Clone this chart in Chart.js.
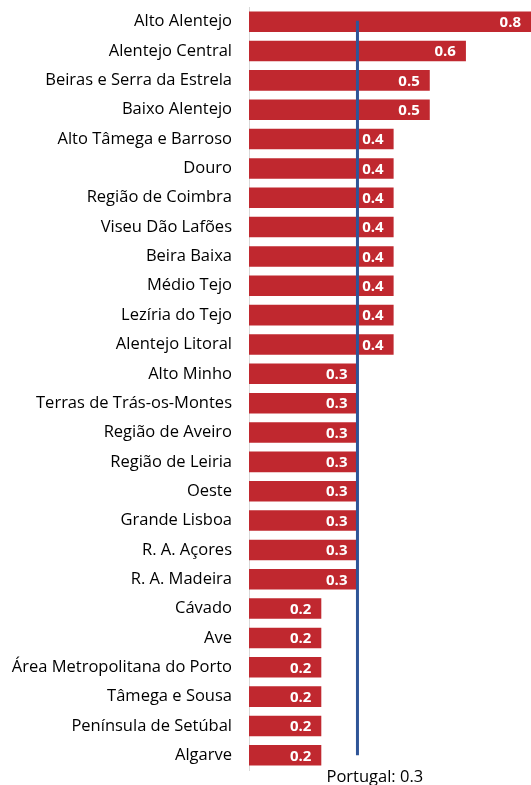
<!DOCTYPE html>
<html>
<head>
<meta charset="utf-8">
<script src="https://cdn.jsdelivr.net/npm/chart.js@4"></script>
<style>
    html, body { margin: 0; padding: 0; background: #fff; }
    #wrap { width: 531px; height: 785px; position: relative; }
</style>
</head>
<body>
<div id="wrap"><canvas id="regionChart"></canvas></div>
<script>
// regiões (NUTS III) e valores
const regions = [
    'Alto Alentejo', 'Alentejo Central', 'Beiras e Serra da Estrela', 'Baixo Alentejo',
    'Alto Tâmega e Barroso', 'Douro', 'Região de Coimbra', 'Viseu Dão Lafões',
    'Beira Baixa', 'Médio Tejo', 'Lezíria do Tejo', 'Alentejo Litoral',
    'Alto Minho', 'Terras de Trás-os-Montes', 'Região de Aveiro', 'Região de Leiria',
    'Oeste', 'Grande Lisboa', 'R. A. Açores', 'R. A. Madeira',
    'Cávado', 'Ave', 'Área Metropolitana do Porto', 'Tâmega e Sousa',
    'Península de Setúbal', 'Algarve'
];
const values = [
    0.8, 0.6, 0.5, 0.5,
    0.4, 0.4, 0.4, 0.4,
    0.4, 0.4, 0.4, 0.4,
    0.3, 0.3, 0.3, 0.3,
    0.3, 0.3, 0.3, 0.3,
    0.2, 0.2, 0.2, 0.2,
    0.2, 0.2
];
const portugalValue = 0.3;
const portugalLabel = 'Portugal: 0.3';

const FONT = '"Open Sans", "Noto Sans", sans-serif';

// linha de referência + rótulos dos valores
const refLinePlugin = {
    id: 'refLine',
    afterDatasetsDraw(chart) {
        const ctx = chart.ctx;
        const x = chart.scales.x;
        const y = chart.scales.y;
        const meta = chart.getDatasetMeta(0);

        // valores dentro das barras
        ctx.save();
        ctx.font = 'bold 15px ' + FONT;
        ctx.fillStyle = '#fff';
        ctx.textAlign = 'right';
        ctx.textBaseline = 'middle';
        meta.data.forEach((bar, i) => {
            const end = Math.min(bar.x, chart.chartArea.right);
            ctx.fillText(values[i].toFixed(1), end - 10, bar.y + 1);
        });
        ctx.restore();

        // Portugal
        const px = x.getPixelForValue(portugalValue);
        ctx.save();
        ctx.strokeStyle = '#2F5597';
        ctx.lineWidth = 3;
        ctx.beginPath();
        ctx.moveTo(px, y.getPixelForValue(0) - 1);
        ctx.lineTo(px, y.getPixelForValue(regions.length - 1));
        ctx.stroke();

        ctx.font = '16.5px ' + FONT;
        ctx.fillStyle = '#000';
        ctx.textAlign = 'left';
        ctx.textBaseline = 'alphabetic';
        ctx.fillText(portugalLabel, px - 31, 782);
        ctx.restore();
    }
};

const ctx = document.getElementById('regionChart').getContext('2d');
const regionChart = new Chart(ctx, {
    type: 'bar',
    data: {
        labels: regions,
        datasets: [{
            data: values,
            backgroundColor: '#C0282F',
            borderWidth: 0,
            categoryPercentage: 1,
            barPercentage: 0.7
        }]
    },
    options: {
        indexAxis: 'y',
        responsive: true,
        maintainAspectRatio: false,
        animation: false,
        layout: {
            padding: { top: 7, bottom: 15, left: 0, right: 0 }
        },
        plugins: {
            legend: { display: false },
            tooltip: { enabled: false }
        },
        scales: {
            x: {
                display: false,
                min: 0,
                max: 0.78
            },
            y: {
                grid: { display: false, drawTicks: false },
                border: { display: true, color: '#d9d9d9', width: 1 },
                ticks: {
                    color: '#000',
                    padding: 17,
                    font: { family: FONT, size: 16.5 }
                },
                afterFit(scale) {
                    scale.width = 249;
                    // sem margem extra por causa do padding dos rótulos
                    scale.paddingTop = 0;
                    scale.paddingBottom = 0;
                }
            }
        }
    },
    plugins: [refLinePlugin]
});
</script>
</body>
</html>
